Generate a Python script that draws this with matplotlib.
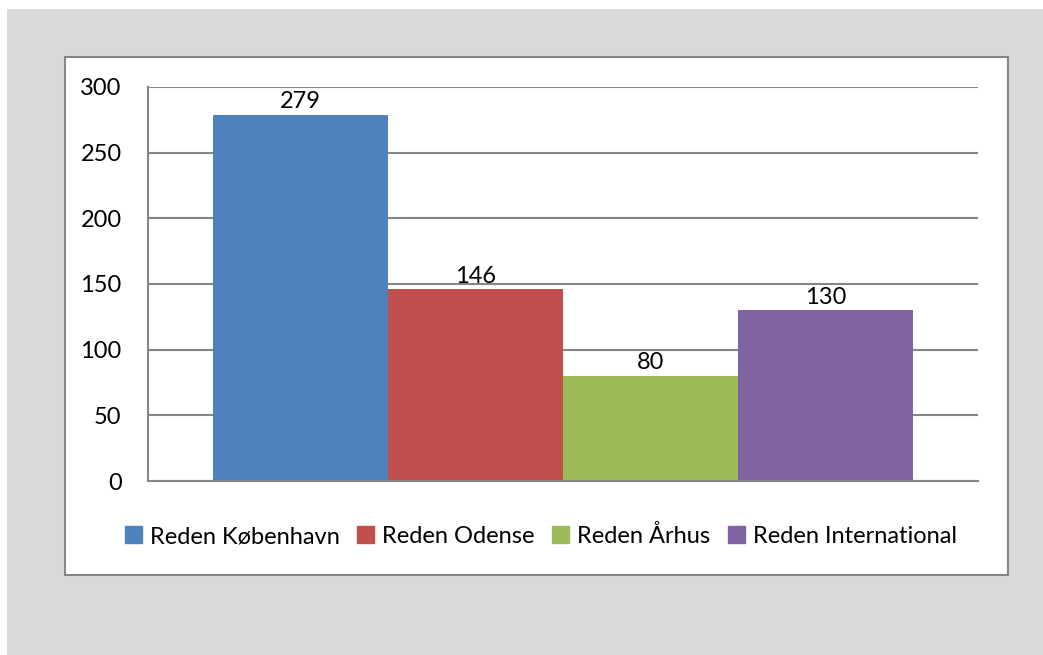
import matplotlib.pyplot as plt
from matplotlib.patches import Rectangle
import numpy as np

# Reden statistics, one category with four series
series = ['Reden København', 'Reden Odense', 'Reden Århus', 'Reden International']
values = [279, 146, 80, 130]
colors = ['#4f81bd', '#c0504d', '#9bbb59', '#8064a2']
yticks = [0, 50, 100, 150, 200, 250, 300]

plt.rcParams['font.family'] = ['Lato', 'DejaVu Sans']

W, H = 1043, 655
fig = plt.figure(figsize=(W / 100, H / 100), dpi=100)
fig.patch.set_facecolor('white')

# grey outer background and white chart box
fig.patches.append(Rectangle((7 / W, 0), 1 - 7 / W, 1 - 9 / H, transform=fig.transFigure,
                             facecolor='#d9d9d9', edgecolor='none', zorder=-2))
fig.patches.append(Rectangle((65 / W, 1 - 575 / H), (1008 - 65) / W, (575 - 57) / H,
                             transform=fig.transFigure, facecolor='white',
                             edgecolor='#868686', linewidth=1.5, zorder=-1))

ax = fig.add_axes([148 / W, 1 - 481 / H, (978 - 148) / W, (481 - 87) / H])
ax.set_facecolor('white')

w = 175 / 830
offsets = (np.arange(len(values)) - 1.5) * w
bars = ax.bar(offsets, values, width=w, color=colors, label=series, zorder=2)
for x, v in zip(offsets, values):
    ax.text(x, v + 2, str(v), ha='center', va='bottom', fontsize=17, color='black')

ax.set_xlim(-0.5, 0.5)
ax.set_ylim(0, 300)
ax.set_yticks(yticks)
ax.set_xticks([])
ax.tick_params(axis='y', length=0, labelsize=17, pad=19)
ax.yaxis.grid(True, color='#868686', linewidth=1.5, zorder=0)
ax.set_axisbelow(True)
for s in ['top', 'right']:
    ax.spines[s].set_visible(False)
for s in ['left', 'bottom']:
    ax.spines[s].set_color('#868686')
    ax.spines[s].set_linewidth(1.5)

handles = [Rectangle((0, 0), 1, 1, color=c) for c in colors]
fig.legend(handles, series, loc='center', bbox_to_anchor=(541 / W, 1 - 536 / H),
           ncol=4, frameon=False, fontsize=17, handlelength=0.7, handleheight=0.7,
           handletextpad=0.35, columnspacing=0.75)

fig.savefig('out.png', dpi=100)
